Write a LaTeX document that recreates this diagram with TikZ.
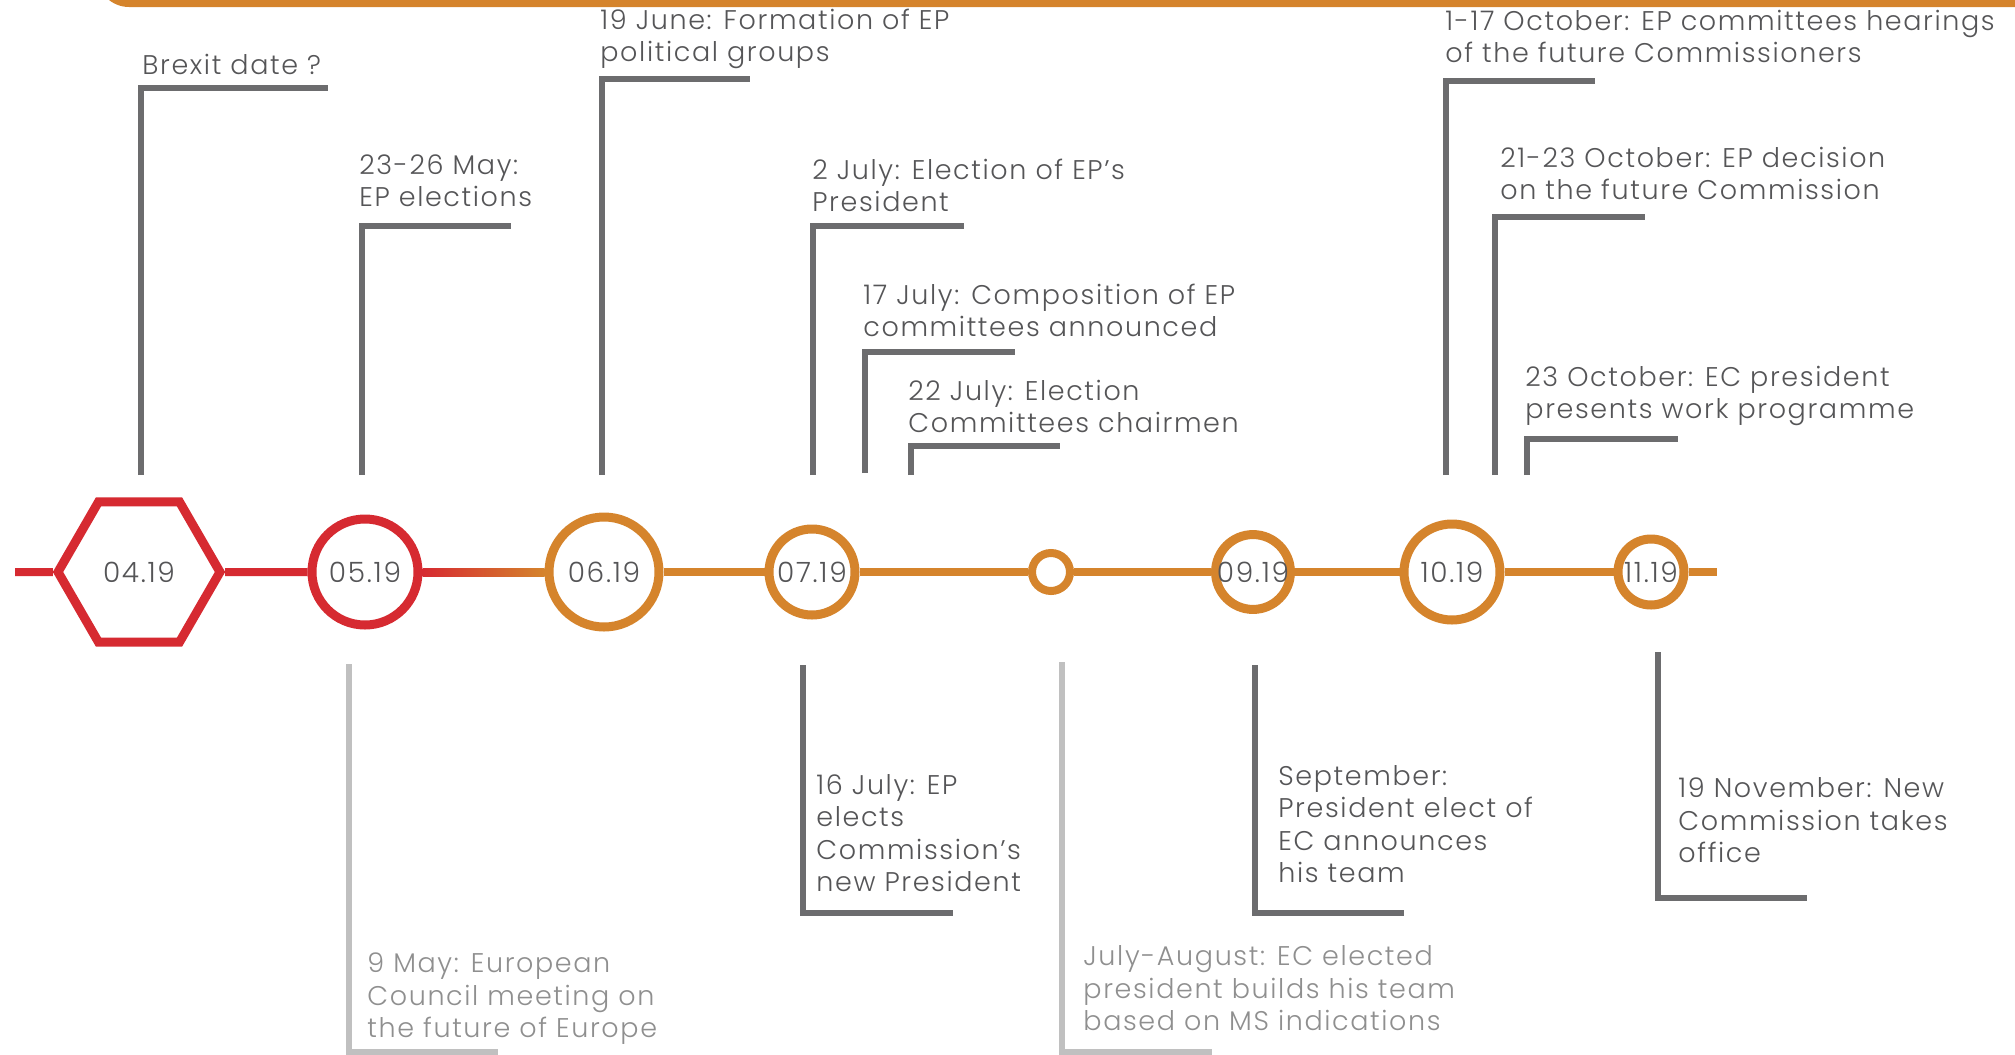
\documentclass[tikz,border=0pt]{standalone}
\usepackage{fontspec}
\setmainfont{Poppins Light}[LetterSpace=6]
\usepackage{tikz}
\usetikzlibrary{shapes.geometric}
\definecolor{tlred}{HTML}{D62A31}
\definecolor{tlorange}{HTML}{D5842C}
\definecolor{tldark}{HTML}{6C6C6E}
\definecolor{tllight}{HTML}{C0C0C0}
\definecolor{tltext}{HTML}{555557}
\definecolor{tlfaint}{HTML}{8F8F8F}
\tikzstyle{stagered}=[circle, draw=tlred, line width=4.5pt, fill=white, inner sep=0pt, text=tltext, font=\fontsize{14}{16}\selectfont]
\tikzstyle{stageorange}=[stagered, draw=tlorange]
\tikzstyle{hexred}=[regular polygon, regular polygon sides=6, draw=tlred, line width=4.5pt, fill=white, inner sep=0pt, text=tltext, font=\fontsize{14}{16}\selectfont]
\tikzstyle{axisred}=[draw=tlred, line width=4pt]
\tikzstyle{axisorange}=[draw=tlorange, line width=4pt]
\tikzstyle{callout}=[draw=tldark, line width=2.6pt]
\tikzstyle{calloutlight}=[draw=tllight, line width=2.6pt]
\tikzstyle{event}=[anchor=south west, align=left, inner sep=0pt, text depth=0pt, text=tltext, font=\fontsize{13.5}{16.25}\selectfont]
\tikzstyle{eventlight}=[event, text=tlfaint]

\begin{document}
\begin{tikzpicture}[x=0.5pt, y=-0.5pt]
	\useasboundingbox (0,0) rectangle (2015,1055);
	\fill[tlorange, rounded corners=16pt] (97,-40) rectangle (2060,7);
	\begin{scope}
		\node (m04) at (139, 572)[hexred, minimum size=81pt] {04.19};
		\node (m05) at (365, 572)[stagered, minimum size=53pt] {05.19};
		\node (m06) at (604, 572)[stageorange, minimum size=55pt] {06.19};
		\node (m07) at (812, 572)[stageorange, minimum size=43pt] {07.19};
		\node (m08) at (1051, 572)[stageorange, line width=4pt, minimum size=19pt] {};
		\node (m09) at (1253, 572)[stageorange, minimum size=35.5pt] {09.19};
		\node (m10) at (1452, 572)[stageorange, minimum size=48pt] {10.19};
		\node (m11) at (1651, 572)[stageorange, minimum size=33pt] {11.19};
		\coordinate (tlstart) at (15, 572);
		\coordinate (tlend) at (1717, 572);
	\end{scope}
	\begin{scope}
		\path [axisred] (tlstart) edge (m04);
		\path [axisred] (m04) edge (m05);
		\shade [left color=tlred, right color=tlorange] ([yshift=2pt]m05.east) rectangle ([yshift=-2pt]m06.west);
		\path [axisorange] (m06) edge (m07);
		\path [axisorange] (m07) edge (m08);
		\path [axisorange] (m08) edge (m09);
		\path [axisorange] (m09) edge (m10);
		\path [axisorange] (m10) edge (m11);
		\path [axisorange] (m11) edge (tlend);
	\end{scope}
	\begin{scope}
		\node (brexit) at (142, 75)[event] {Brexit date ?};
		\node (may23) at (359, 207)[event] {23-26 May:\\EP elections};
		\node (june19) at (600, 62)[event] {19 June: Formation of EP\\political groups};
		\node (july2) at (812, 212)[event] {2 July: Election of EP’s\\President};
		\node (july17) at (863, 337)[event] {17 July: Composition of EP\\committees announced};
		\node (july22) at (908, 433)[event] {22 July: Election\\Committees chairmen};
		\node (oct1) at (1445, 63)[event] {1-17 October: EP committees hearings\\of the future Commissioners};
		\node (oct21) at (1500, 200)[event] {21-23 October: EP decision\\on the future Commission};
		\node (oct23) at (1525, 419)[event] {23 October: EC president\\presents work programme};
		\node (may9) at (367, 1038)[eventlight] {9 May: European\\Council meeting on\\the future of Europe};
		\node (july16) at (816, 892)[event] {16 July: EP\\elects\\Commission’s\\new President};
		\node (julyaug) at (1083, 1031)[eventlight] {July-August: EC elected\\president builds his team\\based on MS indications};
		\node (sept) at (1278, 883)[event] {September:\\President elect of\\EC announces\\his team};
		\node (nov19) at (1678, 863)[event] {19 November: New\\Commission takes\\office};
	\end{scope}
	\begin{scope}
		\coordinate (brexitb) at (141, 475);   \coordinate (brexite) at (328, 88);
		\coordinate (may23b) at (362, 475);    \coordinate (may23e) at (511, 226);
		\coordinate (june19b) at (602, 475);   \coordinate (june19e) at (750, 79);
		\coordinate (july2b) at (813, 475);    \coordinate (july2e) at (964, 226);
		\coordinate (july17b) at (865, 473);   \coordinate (july17e) at (1015, 352);
		\coordinate (july22b) at (911, 475);   \coordinate (july22e) at (1060, 446);
		\coordinate (oct1b) at (1446, 475);    \coordinate (oct1e) at (1595, 81);
		\coordinate (oct21b) at (1495, 475);   \coordinate (oct21e) at (1645, 217);
		\coordinate (oct23b) at (1527, 475);   \coordinate (oct23e) at (1678, 439);
		\coordinate (may9b) at (349, 664);     \coordinate (may9e) at (498, 1052);
		\coordinate (july16b) at (803, 665);   \coordinate (july16e) at (953, 913);
		\coordinate (julyaugb) at (1062, 662); \coordinate (julyauge) at (1212, 1052);
		\coordinate (septb) at (1255, 665);    \coordinate (septe) at (1404, 913);
		\coordinate (nov19b) at (1658, 652);   \coordinate (nov19e) at (1807, 898);
	\end{scope}
	\begin{scope}
		\draw [callout] (brexitb) |- (brexite);
		\draw [callout] (may23b) |- (may23e);
		\draw [callout] (june19b) |- (june19e);
		\draw [callout] (july2b) |- (july2e);
		\draw [callout] (july17b) |- (july17e);
		\draw [callout] (july22b) |- (july22e);
		\draw [callout] (oct1b) |- (oct1e);
		\draw [callout] (oct21b) |- (oct21e);
		\draw [callout] (oct23b) |- (oct23e);
		\draw [calloutlight] (may9b) |- (may9e);
		\draw [callout] (july16b) |- (july16e);
		\draw [calloutlight] (julyaugb) |- (julyauge);
		\draw [callout] (septb) |- (septe);
		\draw [callout] (nov19b) |- (nov19e);
	\end{scope}
\end{tikzpicture}
\end{document}
